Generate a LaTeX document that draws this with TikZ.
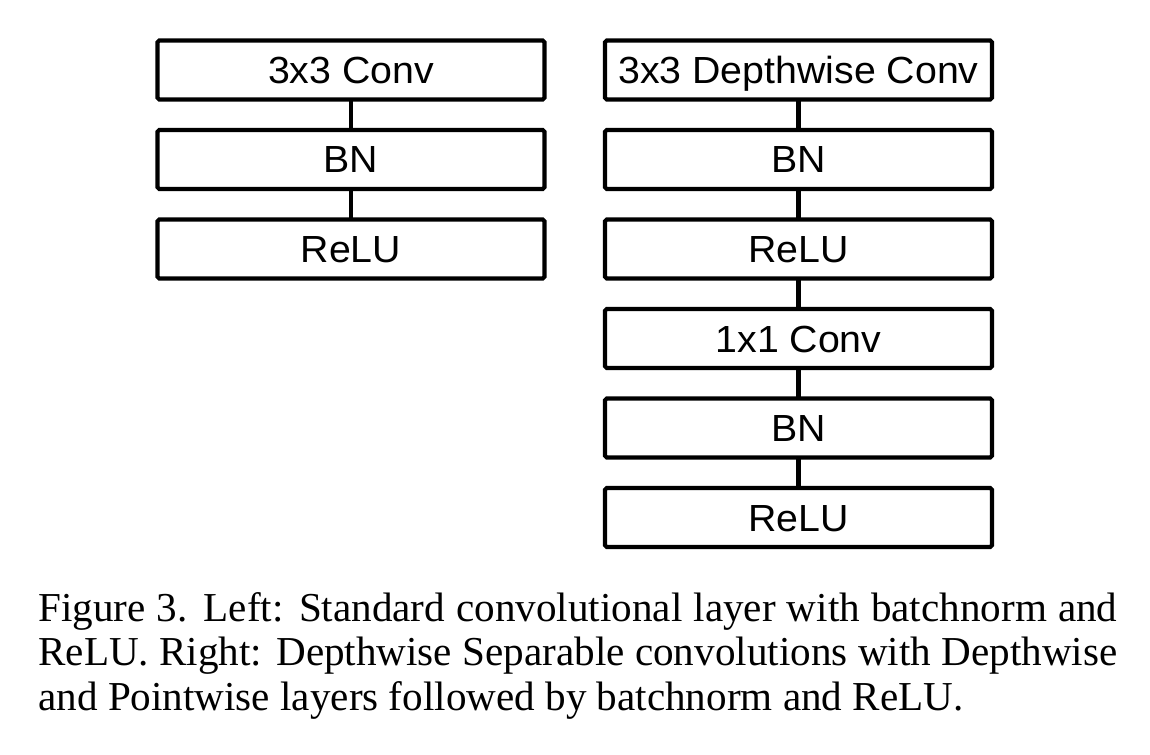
\documentclass[tikz,border=0pt]{standalone}
\usepackage{fontspec}
\setmainfont{Liberation Serif}
\newfontfamily\boxfont[FakeStretch=1.04]{Liberation Sans}
\usetikzlibrary{positioning}
\tikzset{layer/.style={draw, line width=2.3pt, rounded corners=1pt, outer sep=0pt, inner sep=0pt, minimum width=7.74cm, minimum height=1.18cm, text height=0.54cm, text depth=0pt, font=\boxfont\fontsize{21.5}{25}\selectfont}}
\begin{document}
\begin{tikzpicture}[node distance=0.61cm]
		\useasboundingbox (0,0) rectangle (23,-15.1);
		\node (conv)[layer] at (7.02,-1.4) {3x3 Conv};
		\node (bn)[layer, below=of conv] {BN};
		\node (relu)[layer, below=of bn] {ReLU};
		\node (dw)[layer] at (15.97,-1.4) {3x3 Depthwise Conv};
		\node (bn1)[layer, below=of dw] {BN};
		\node (relu1)[layer, below=of bn1] {ReLU};
		\node (pw)[layer, below=of relu1] {1x1 Conv};
		\node (bn2)[layer, below=of pw] {BN};
		\node (relu2)[layer, below=of bn2] {ReLU};
		\draw [line width=2.3pt](conv)--(bn);
		\draw [line width=2.3pt](bn)--(relu);
		\draw [line width=2.3pt](dw)--(bn1);
		\draw [line width=2.3pt](bn1)--(relu1);
		\draw [line width=2.3pt](relu1)--(pw);
		\draw [line width=2.3pt](pw)--(bn2);
		\draw [line width=2.3pt](bn2)--(relu2);
		\node (cap)[anchor=base west, text width=21.58cm, align=justify, inner sep=0pt, font=\fontsize{23.4}{25.6}\selectfont] at (0.76,-12.42) {Figure 3. Left: Standard convolutional layer with batchnorm and\linebreak ReLU. Right: Depthwise Separable convolutions with Depthwise\linebreak and Pointwise layers followed by batchnorm and ReLU.};
	\end{tikzpicture}
\end{document}
